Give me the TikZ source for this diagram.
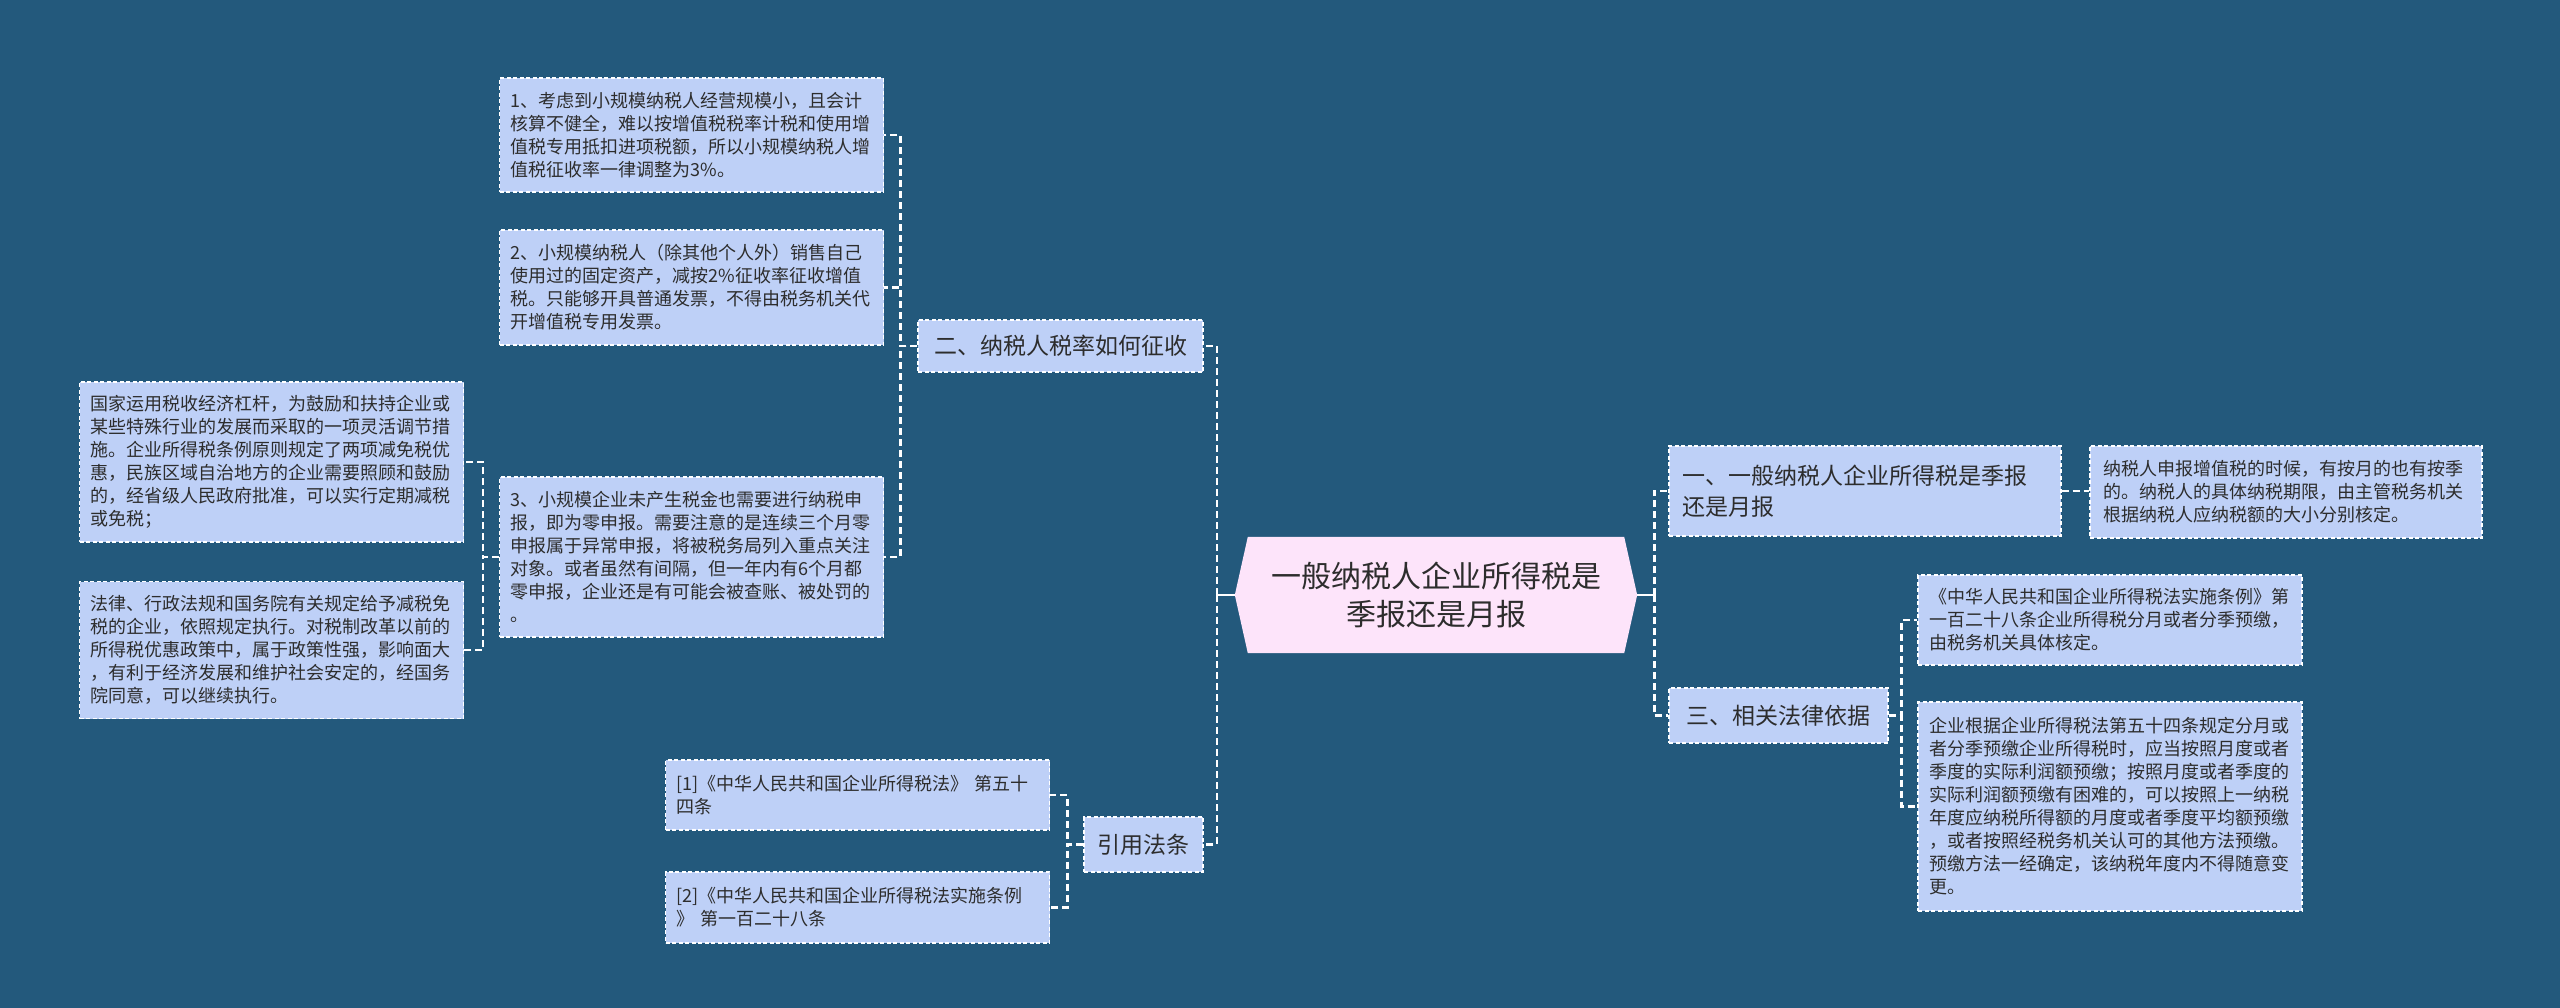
\documentclass[tikz,border=0pt]{standalone}
\usepackage{fontspec}
\setmainfont{Noto Sans CJK SC}
\definecolor{bgc}{RGB}{35,89,124}
\definecolor{nodefill}{RGB}{190,208,247}
\definecolor{cenfill}{RGB}{253,228,250}
\definecolor{txt}{RGB}{45,45,45}
\pgfdeclarelayer{bgl}
\pgfdeclarelayer{hexl}
\pgfsetlayers{bgl,hexl,main}
\begin{document}
\begin{tikzpicture}[x=1pt,y=-1pt,
  box/.style={draw=white, dash pattern=on 4pt off 2.5pt, line width=1.1pt, fill=nodefill, text=txt},
  leaf/.style={box, text width=362pt, align=left, inner xsep=11pt, inner ysep=0pt, font=\fontsize{18}{23}\selectfont},
  topic/.style={box, align=left, inner ysep=0pt, font=\fontsize{23}{31}\selectfont},
  conn/.style={draw=white, line width=2.6pt, dash pattern=on 7pt off 4pt},
  stub/.style={draw=white, line width=2.6pt}]
\begin{pgfonlayer}{bgl}
\fill[bgc] (0,0) rectangle (2560,1008);
\end{pgfonlayer}
\useasboundingbox (0,0) rectangle (2560,1008);

% center
\node[text=txt, align=center, minimum width=402pt, minimum height=116pt, inner sep=0pt,
      font=\fontsize{30}{38}\selectfont] (cen) at (1436,595) {一般纳税人企业所得税是\\季报还是月报};
\begin{pgfonlayer}{hexl}
\fill[cenfill] (cen.west) -- ([xshift=13pt]cen.north west) -- ([xshift=-13pt]cen.north east)
  -- (cen.east) -- ([xshift=-13pt]cen.south east) -- ([xshift=13pt]cen.south west) -- cycle;
\end{pgfonlayer}

% left level 1
\node[topic, minimum width=285pt, minimum height=52pt, align=center] (two) at (1060.5,346) {二、纳税人税率如何征收};
\node[topic, minimum width=119pt, minimum height=55pt, align=center] (cite) at (1143.5,844.5) {引用法条};

% left leaves
\node[leaf, minimum height=114pt] (a1) at (691.5,135) {1、考虑到小规模纳税人经营规模小，且会计\\核算不健全，难以按增值税税率计税和使用增\\值税专用抵扣进项税额，所以小规模纳税人增\\值税征收率一律调整为3\%。};
\node[leaf, minimum height=115pt] (a2) at (691.5,287.5) {2、小规模纳税人（除其他个人外）销售自己\\使用过的固定资产，减按2\%征收率征收增值\\税。只能够开具普通发票，不得由税务机关代\\开增值税专用发票。};
\node[leaf, minimum height=160pt] (a3) at (691.5,557) {3、小规模企业未产生税金也需要进行纳税申\\报，即为零申报。需要注意的是连续三个月零\\申报属于异常申报，将被税务局列入重点关注\\对象。或者虽然有间隔，但一年内有6个月都\\零申报，企业还是有可能会被查账、被处罚的\\。};
\node[leaf, minimum height=160pt] (b1) at (271.5,462) {国家运用税收经济杠杆，为鼓励和扶持企业或\\某些特殊行业的发展而采取的一项灵活调节措\\施。企业所得税条例原则规定了两项减免税优\\惠，民族区域自治地方的企业需要照顾和鼓励\\的，经省级人民政府批准，可以实行定期减税\\或免税；};
\node[leaf, minimum height=137pt] (b2) at (271.5,650) {法律、行政法规和国务院有关规定给予减税免\\税的企业，依照规定执行。对税制改革以前的\\所得税优惠政策中，属于政策性强，影响面大\\，有利于经济发展和维护社会安定的，经国务\\院同意，可以继续执行。};
\node[leaf, minimum height=70pt] (c1) at (857.5,795) {[1]《中华人民共和国企业所得税法》 第五十\\四条};
\node[leaf, minimum height=71pt] (c2) at (857.5,907.5) {[2]《中华人民共和国企业所得税法实施条例\\》 第一百二十八条};

% right level 1
\node[topic, text width=366pt, inner xsep=13pt, minimum height=90pt] (d1) at (1865,491) {一、一般纳税人企业所得税是季报\\还是月报};
\node[topic, minimum width=219pt, minimum height=55pt, align=center] (d2) at (1778.5,715.5) {三、相关法律依据};

% right leaves
\node[leaf, text width=366pt, inner xsep=13pt, minimum height=92pt] (e1) at (2286,492) {纳税人申报增值税的时候，有按月的也有按季\\的。纳税人的具体纳税期限，由主管税务机关\\根据纳税人应纳税额的大小分别核定。};
\node[leaf, minimum height=90pt] (f1) at (2110,620) {《中华人民共和国企业所得税法实施条例》第\\一百二十八条企业所得税分月或者分季预缴，\\由税务机关具体核定。};
\node[leaf, minimum height=209pt] (f2) at (2110,806.5) {企业根据企业所得税法第五十四条规定分月或\\者分季预缴企业所得税时，应当按照月度或者\\季度的实际利润额预缴；按照月度或者季度的\\实际利润额预缴有困难的，可以按照上一纳税\\年度应纳税所得额的月度或者季度平均额预缴\\，或者按照经税务机关认可的其他方法预缴。\\预缴方法一经确定，该纳税年度内不得随意变\\更。};

% connectors
\coordinate (lj) at ([xshift=-18pt]cen.west);
\coordinate (rj) at ([xshift=17pt]cen.east);
\draw[stub] (cen.west) -- (lj);
\draw[stub] (cen.east) -- (rj);
\draw[conn] (lj) |- (two.east);
\draw[conn] (lj) |- (cite.east);
\draw[conn] (rj) |- (d1.west);
\draw[conn] (rj) |- (d2.west);
\draw[conn] (two.west) -- ++(-17,0) |- (a1.east);
\draw[conn] (two.west) -- ++(-17,0) |- (a2.east);
\draw[conn] (two.west) -- ++(-17,0) |- (a3.east);
\draw[conn] (a3.west) -- ++(-16,0) |- (b1.east);
\draw[conn] (a3.west) -- ++(-16,0) |- (b2.east);
\draw[conn] (cite.west) -- ++(-16,0) |- (c1.east);
\draw[conn] (cite.west) -- ++(-16,0) |- (c2.east);
\draw[conn] (d1.east) -- (e1.west |- d1.east);
\draw[conn] (d2.east) -- ++(13,0) |- (f1.west);
\draw[conn] (d2.east) -- ++(13,0) |- (f2.west);
\end{tikzpicture}
\end{document}
